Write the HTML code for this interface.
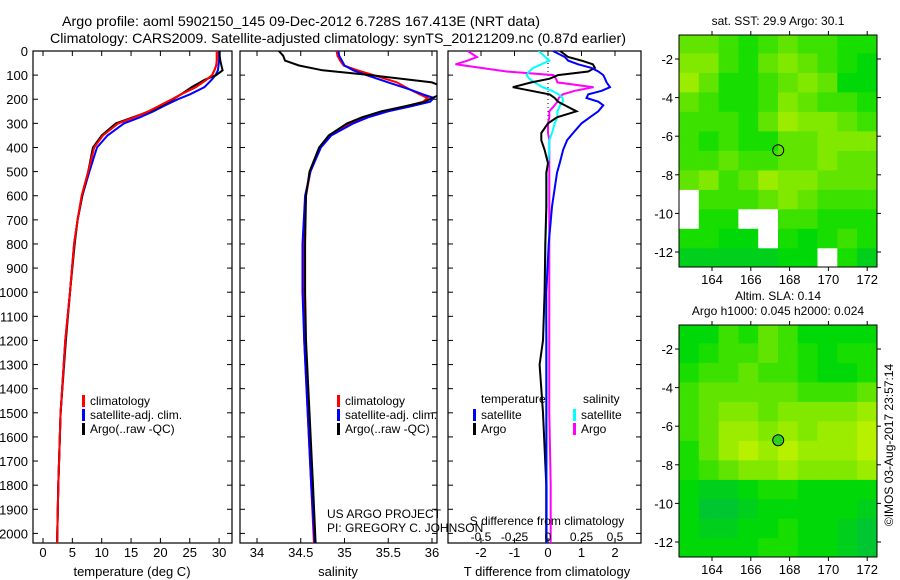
<!DOCTYPE html>
<html><head><meta charset="utf-8"><style>
html,body{margin:0;padding:0;background:#fff;}
svg{display:block;font-family:"Liberation Sans",sans-serif;}
</style></head><body>
<svg id="fig" width="900" height="580" viewBox="0 0 900 580">
<text x="62" y="26" font-size="14" textLength="478" lengthAdjust="spacingAndGlyphs">Argo profile: aoml 5902150_145 09-Dec-2012 6.728S 167.413E (NRT data)</text>
<text x="50" y="43" font-size="14" textLength="576" lengthAdjust="spacingAndGlyphs">Climatology: CARS2009. Satellite-adjusted climatology: synTS_20121209.nc (0.87d earlier)</text>
<g id="g"></g>
</svg>
<script>
// ---- data ----
const tDepth=[0,20,40,60,80,100,120,150,180,200,225,250,275,300,350,400,500,600,700,800,1000,1200,1500,1800,2040];
const tClim=[29.6,29.6,29.6,29.5,29.2,28.8,27.8,26,23.5,22,20,18,15.5,12.8,10.2,8.7,7.7,6.6,5.9,5.3,4.6,3.8,3.0,2.6,2.4];
const tSat=[30.0,30.0,30.0,29.9,29.8,29.4,28.7,27.5,25,23,20.8,18.8,16.5,13.8,11,9.2,7.9,6.7,5.9,5.3,4.6,3.8,3.0,2.6,2.4];
const tArgo=[30.1,30.1,30.2,30.4,30.6,29.5,27.5,25.3,23.5,22.2,20.3,18.2,15.3,12.4,10,8.5,7.7,6.7,5.9,5.4,4.6,3.9,3.0,2.6,2.4];
const sDepth=[0,20,40,60,80,100,130,160,180,195,210,230,250,275,300,350,400,500,600,800,1000,1200,1500,1800,2040];
const sClim=[34.91,34.92,34.95,34.99,35.15,35.33,35.6,35.75,35.86,35.95,35.9,35.7,35.44,35.22,35.06,34.83,34.72,34.61,34.56,34.53,34.53,34.54,34.58,34.62,34.65];
const sSat=[34.93,34.94,34.97,35.0,35.1,35.25,35.5,35.75,35.9,36.02,35.98,35.75,35.5,35.27,35.1,34.85,34.73,34.61,34.55,34.52,34.52,34.54,34.58,34.62,34.66];
const sArgo=[34.25,34.3,34.32,34.48,34.75,35.3,36.0,36.2,36.1,36.0,35.92,35.68,35.42,35.2,35.03,34.82,34.71,34.6,34.56,34.55,34.55,34.56,34.6,34.64,34.67];
const dDepth=[0,25,40,55,70,85,100,115,130,150,165,180,195,210,225,250,275,300,340,370,410,465,505,645,800,1000,1200,1300,1400,1500,1800,2040];
const dTSat=[0.15,0.5,0.6,0.9,1.3,1.5,1.65,1.7,1.75,1.85,1.6,1.2,1.15,1.5,1.65,1.5,1.25,1.0,0.75,0.57,0.45,0.35,0.27,0.12,0.02,-0.05,-0.05,-0.05,-0.05,-0.05,-0.05,-0.05];
const dTArgo=[0.36,0.6,1.0,1.34,1.4,1.2,0.3,0.05,-0.5,-1.05,-0.5,0.05,0.2,0.3,0.5,0.85,0.27,0.0,-0.2,-0.2,-0.1,0.0,-0.05,-0.05,-0.08,-0.1,-0.15,-0.25,-0.2,-0.15,-0.05,-0.05];
const dSArgo=[-0.6,-0.53,-0.6,-0.69,-0.5,-0.31,0.04,0.06,0.07,0.34,0.2,0.11,0.08,0.07,0.05,0.01,0.01,0.0,0.0,0.01,0.01,0.01,0.01,0.01,0.01,0.01,0.01,0.01,0.01,0.01,0.02,0.02];
const dSSat=[-0.07,-0.02,0.01,-0.05,-0.11,-0.14,-0.16,-0.14,-0.1,-0.04,0.03,0.08,0.11,0.11,0.09,0.07,0.07,0.05,0.03,0.01,0.01,0,-0.01,-0.01,-0.02,-0.02,-0.01,-0.01,-0.01,-0.01,-0.01,-0.01];
const depthTicks=[0,100,200,300,400,500,600,700,800,900,1000,1100,1200,1300,1400,1500,1600,1700,1800,1900,2000];
const tTicks=[0,5,10,15,20,25,30];
const sTicks=[34,34.5,35,35.5,36];
const dTTicks=[-2,-1,0,1,2];
const dSTicks=[-0.5,-0.25,0,0.25,0.5];
const lonTicks=[164,166,168,170,172];
const latTicks=[-2,-4,-6,-8,-10,-12];
const sstGrid=[
[.6,.6,.5,.4,.5,.6,.5,.5,.4,.4],
[.7,.7,.5,.4,.6,.7,.6,.5,.4,.3],
[.8,.6,.4,.4,.5,.6,.7,.6,.3,.3],
[.6,.5,.4,.4,.5,.7,.6,.5,.5,.4],
[.5,.5,.5,.4,.6,.8,.7,.7,.6,.5],
[.5,.4,.5,.4,.4,.6,.6,.7,.7,.7],
[.5,.5,.6,.5,.5,.6,.6,.7,.6,.6],
[.6,.7,.5,.6,.8,.7,.7,.6,.6,.6],
[-1,.5,.5,.5,.6,.7,.6,.5,.5,.5],
[-1,.4,.4,-1,-1,.5,.5,.4,.4,.4],
[.4,.4,.3,.3,-1,.4,.3,.4,.5,.4],
[.2,.2,.2,.2,.2,.3,.3,-1,.4,.2]];
const slaGrid=[
[.3,.3,.5,.4,.6,.5,.3,.3,.3,.3],
[.3,.4,.5,.5,.6,.5,.4,.3,.4,.4],
[.4,.5,.5,.6,.5,.5,.4,.3,.3,.4],
[.5,.6,.6,.6,.6,.6,.5,.5,.5,.6],
[.5,.6,.7,.7,.6,.7,.7,.7,.7,.8],
[.5,.6,.8,.8,.7,.8,.7,.8,.8,.9],
[.4,.6,.8,.9,.8,.9,.8,.8,.8,.9],
[.4,.5,.6,.7,.7,.8,.7,.7,.7,.8],
[.3,.2,.2,.3,.4,.4,.3,.3,.3,.3],
[.3,.1,.1,.2,.3,.3,.3,.3,.3,.2],
[.3,.2,.2,.3,.3,.4,.3,.3,.2,.1],
[.3,.3,.3,.3,.4,.4,.3,.3,.2,.1]];
const argoLon=167.413, argoLat=-6.728;

// ---- drawing ----
const NS='http://www.w3.org/2000/svg';
const G=document.getElementById('g');
function mk(tag,at,parent){const e=document.createElementNS(NS,tag);for(const k in at)e.setAttribute(k,at[k]);(parent||G).appendChild(e);return e;}
function txt(x,y,s,size,anchor,parent){const t=mk('text',{x:x,y:y,'font-size':size,'text-anchor':anchor||'middle'},parent);t.textContent=s;return t;}
const TOP=51,BOT=543;
const yD=d=>TOP+d*0.2412;
function panel(name,x0,x1,xs,ticks,labels,labelY){
  const r=mk('rect',{x:x0,y:TOP,width:x1-x0,height:BOT-TOP,fill:'none',stroke:'#000','stroke-width':1.2});
  
  
  const cp=mk('clipPath',{id:name+'-clip'});mk('rect',{x:x0,y:TOP,width:x1-x0,height:BOT-TOP},cp);
  depthTicks.forEach(d=>{mk('line',{x1:x0,x2:x0+5,y1:yD(d),y2:yD(d),stroke:'#000'});mk('line',{x1:x1,x2:x1-5,y1:yD(d),y2:yD(d),stroke:'#000'});});
  ticks.forEach((v,i)=>{const X=xs(v);mk('line',{x1:X,x2:X,y1:TOP,y2:TOP+5,stroke:'#000'});mk('line',{x1:X,x2:X,y1:BOT,y2:BOT-5,stroke:'#000'});
    if(labels){const t=txt(X,labelY,labels[i],13);}});
}
function line(name,xs,vals,depths,color,clip){
  const d=vals.map((v,i)=>(i?'L':'M')+xs(v).toFixed(1)+','+yD(depths[i]).toFixed(1)).join('');
  const p=mk('path',{d:d,fill:'none',stroke:color,'stroke-width':2,'clip-path':'url(#'+clip+')'});
  
  
}
// panel 1 temperature
const xT=v=>43+v*5.87;
panel('temperature-panel',33,232,xT,tTicks,tTicks.map(String),557);
depthTicks.forEach(d=>{const t=txt(28,yD(d)+5,String(d),13,'end');});
line('temp-climatology-line',xT,tClim,tDepth,'#f00','temperature-panel-clip');
line('temp-satellite-line',xT,tSat,tDepth,'#00f','temperature-panel-clip');
line('temp-argo-line',xT,tArgo,tDepth,'#000','temperature-panel-clip');
line('temp-climatology-line-top',xT,tClim,tDepth,'#f00','temperature-panel-clip');
const xl=txt(132,576,'temperature (deg C)',13);
// panel 2 salinity
const xS=v=>257+(v-34)*87.5;
panel('salinity-panel',240,437,xS,sTicks,['34','34.5','35','35.5','36'],557);
line('sal-climatology-line',xS,sClim,sDepth,'#f00','salinity-panel-clip');
line('sal-satellite-line',xS,sSat,sDepth,'#00f','salinity-panel-clip');
line('sal-argo-line',xS,sArgo,sDepth,'#000','salinity-panel-clip');
const sl=txt(338,576,'salinity',13);
// legends
function legend(name,x,items){items.forEach((it,i)=>{const y=403+i*14;
  const b=mk('rect',{x:x,y:y-8,width:3,height:12,fill:it[1]});
  const t=txt(x+8,y+2,it[0],12,'start');});}
const legItems=[['climatology','#f00'],['satellite-adj. clim.','#00f'],['Argo(..raw -QC)','#000']];
legend('temp-legend',82,legItems);
legend('sal-legend',337,legItems);
let t1=txt(327,518,'US ARGO PROJECT',12,'start');
// panel 3 differences
const xDT=v=>548+v*33.5, xDS=v=>548+v*134;
panel('difference-panel',448,641,xDT,dTTicks,['-2','-1','0','1','2'],557);
mk('line',{x1:548,x2:548,y1:TOP,y2:yD(320),stroke:'#000','stroke-dasharray':'1,3'});
line('s-diff-argo-line',xDS,dSArgo,dDepth,'#f0f','difference-panel-clip');
line('s-diff-satellite-line',xDS,dSSat,dDepth,'#0ff','difference-panel-clip');
line('t-diff-argo-line',xDT,dTArgo,dDepth,'#000','difference-panel-clip');
line('t-diff-satellite-line',xDT,dTSat,dDepth,'#00f','difference-panel-clip');
dSTicks.forEach(v=>{const t=txt(xDS(v),541,String(v),12);});
let s1=txt(547,525,'S difference from climatology',12);
let s2=txt(547,576,'T difference from climatology',13);
let t2=txt(327,532,'PI: GREGORY C. JOHNSON',12,'start');
[['temperature',481,403],['salinity',583,403]].forEach(a=>{const t=txt(a[1],a[2],a[0],12,'start');});
[[473,'#00f','satellite'],[473,'#000','Argo'],[573,'#0ff','satellite'],[573,'#f0f','Argo']].forEach((a,i)=>{const y=417+(i%2)*14;
  const b=mk('rect',{x:a[0],y:y-8,width:3,height:12,fill:a[1]});
  const t=txt(a[0]+8,y+2,a[2],12,'start');});
// maps
function col(v){if(v<0)return '#fff';const st=[[0,190,70],[0,220,0],[120,230,0],[210,245,0]];const f=Math.min(v,1)*3,i=Math.min(2,Math.floor(f)),r=f-i;
  const c=st[i].map((a,k)=>Math.round(a+(st[i+1][k]-a)*r));return 'rgb('+c.join(',')+')';}
function map(name,top,grid,title,filled){
  const L=679,R=877,B=top+232,lon=v=>712+(v-164)*19.4,lat=v=>top+24+(-2-v)*19.3;
  const g0=162.3,la0=-0.7;
  grid.forEach((row,ri)=>row.forEach((v,ci)=>{
    const x=lon(g0+ci*1.02),y=lat(la0-ri*1.01);
    const c=mk('rect',{x:x.toFixed(1),y:y.toFixed(1),width:21,height:21,fill:col(v),'clip-path':'url(#'+name+'-clip)'});
    
    
  }));
  const cp=mk('clipPath',{id:name+'-clip'});mk('rect',{x:L,y:top,width:R-L,height:B-top},cp);
  const fr=mk('rect',{x:L,y:top,width:R-L,height:B-top,fill:'none',stroke:'#000'});
  lonTicks.forEach(v=>{const X=lon(v);mk('line',{x1:X,x2:X,y1:top,y2:top-4,stroke:'#000'});mk('line',{x1:X,x2:X,y1:B,y2:B+4,stroke:'#000'});
    const t=txt(X,B+17,String(v),13);});
  latTicks.forEach(v=>{const Y=lat(v);mk('line',{x1:L,x2:L-4,y1:Y,y2:Y,stroke:'#000'});mk('line',{x1:R,x2:R+4,y1:Y,y2:Y,stroke:'#000'});
    const t=txt(L-6,Y+5,String(v),13,'end');});
  const m=mk('circle',{cx:lon(argoLon),cy:lat(argoLat),r:5.5,fill:filled?'#30d020':'none',stroke:'#000','stroke-width':1});
  
  title.forEach((s,i)=>{const t=txt(778,top-10-(title.length-1-i)*15,s,12);});
}
map('sst-map',35,sstGrid,['sat. SST: 29.9 Argo: 30.1'],false);
map('sla-map',325,slaGrid,['Altim. SLA: 0.14','Argo h1000: 0.045 h2000: 0.024'],true);
const ts=txt(0,0,'©IMOS 03-Aug-2017 23:57:14',12);ts.setAttribute('transform','translate(893,445) rotate(-90)');

</script>
</body></html>
